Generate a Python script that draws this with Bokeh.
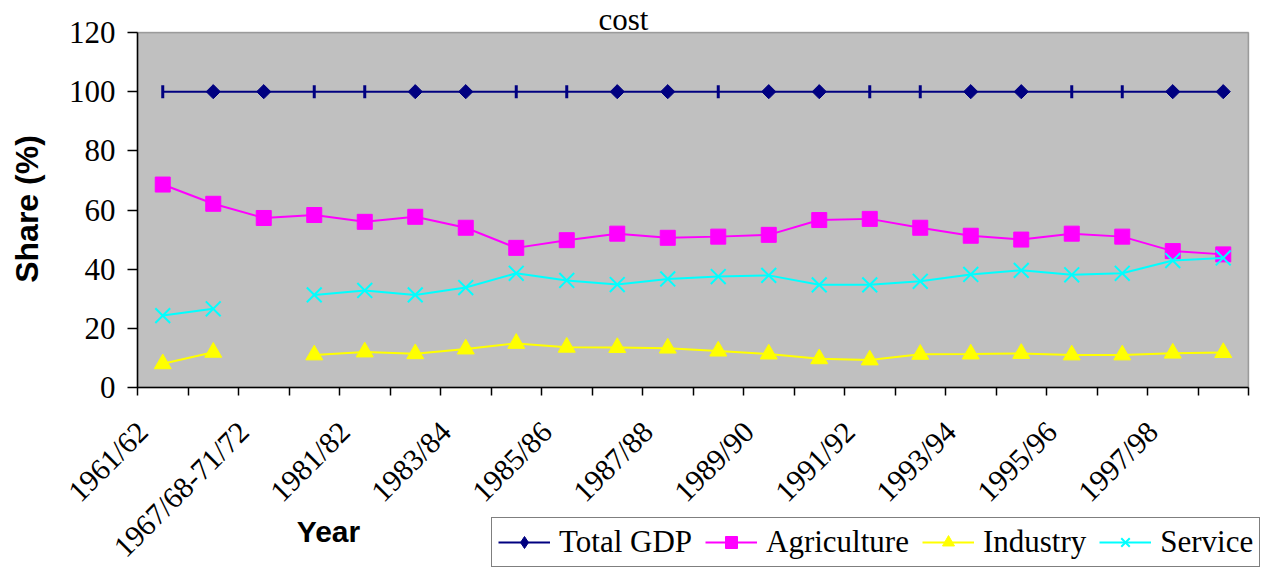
from math import pi
from bokeh.plotting import figure
from bokeh.models import Range1d, FixedTicker, Legend, LegendItem, Label, BoxAnnotation
from bokeh.embed import file_html
from bokeh.resources import INLINE

nan = float("nan")

years = ["1961/62", "1962/63-66/67", "1967/68-71/72", "1972/73-80/81", "1981/82", "1982/83",
         "1983/84", "1984/85", "1985/86", "1986/87", "1987/88", "1988/89", "1989/90", "1990/91",
         "1991/92", "1992/93", "1993/94", "1994/95", "1995/96", "1996/97", "1997/98", "1998/99"]
shown_labels = [0, 2, 4, 6, 8, 10, 12, 14, 16, 18, 20]

total_gdp = [100, 100, 100, 100, 100, 100, 100, 100, 100, 100, 100,
             100, 100, 100, 100, 100, 100, 100, 100, 100, 100, 100]
agriculture = [68.6, 62.1, 57.3, 58.3, 56.0, 57.7, 54.0, 47.2, 49.8, 52.0, 50.6,
               51.0, 51.6, 56.6, 57.0, 54.0, 51.3, 50.0, 52.0, 51.0, 46.1, 45.0]
industry = [8.0, 11.9, nan, 11.0, 12.0, 11.4, 13.0, 14.9, 13.6, 13.5, 13.3,
            12.3, 11.3, 9.7, 9.3, 11.2, 11.3, 11.5, 11.0, 11.0, 11.6, 11.8]
service = [24.3, 26.6, nan, 31.3, 32.8, 31.3, 33.8, 38.6, 36.2, 34.8, 36.7,
           37.5, 37.9, 34.7, 34.7, 35.9, 38.2, 39.6, 38.1, 38.6, 42.9, 43.8]
gdp_diamond_points = [1, 2, 5, 6, 9, 10, 12, 13, 16, 17, 20, 21]
gdp_bar_points = [0, 3, 4, 7, 8, 11, 14, 15, 18, 19]
y_ticks = [0, 20, 40, 60, 80, 100, 120]

x = list(range(len(years)))

# Layout geometry (pixels): plot area spans x 137..1248, y 32..387 on a 1278x568 canvas.
W, H = 1278, 568
PA_LEFT, PA_RIGHT, PA_TOP, PA_BOTTOM = 137, 1248, 32, 387
x_lo, x_hi = -0.5, len(years) - 0.5
y_lo, y_hi = 0, 120
px_x = (PA_RIGHT - PA_LEFT) / (x_hi - x_lo)
px_y = (PA_BOTTOM - PA_TOP) / (y_hi - y_lo)
LABEL_SHIFT = -0.4   # Excel draws slanted category labels a little left of the category centre

p = figure(width=W, height=H, output_backend="svg", toolbar_location=None,
           x_range=Range1d(x_lo - PA_LEFT / px_x, x_hi + (W - PA_RIGHT) / px_x),
           y_range=Range1d(y_lo - (H - PA_BOTTOM) / px_y, y_hi + PA_TOP / px_y),
           min_border_left=0, min_border_right=0, min_border_top=0, min_border_bottom=0,
           background_fill_color="white", border_fill_color="white",
           outline_line_color=None)
p.grid.visible = False

p.add_layout(BoxAnnotation(left=x_lo, right=x_hi, bottom=y_lo, top=y_hi,
                           fill_color="#c0c0c0", fill_alpha=1.0,
                           line_color="black", line_width=1.5, level="underlay"))

SERIF = "Liberation Serif"
SANS = "Liberation Sans"

label_ticks = [i + LABEL_SHIFT for i in shown_labels]

xa = p.xaxis[0]
xa.fixed_location = y_lo
xa.bounds = (x_lo, x_hi)
xa.ticker = FixedTicker(ticks=label_ticks, minor_ticks=[i - 0.5 for i in range(len(years) + 1)])
xa.major_label_overrides = {t: years[i] for t, i in zip(label_ticks, shown_labels)}
xa.major_tick_out = 0
xa.major_tick_in = 0
xa.minor_tick_out = 8
xa.minor_tick_in = 0
xa.minor_tick_line_color = "black"
xa.minor_tick_line_width = 1.5
xa.axis_line_color = "black"
xa.axis_line_width = 1.5
xa.major_label_orientation = pi / 4
xa.major_label_text_font = SERIF
xa.major_label_text_font_size = "30px"
xa.major_label_text_color = "black"
xa.major_label_standoff = 31

ya = p.yaxis[0]
ya.fixed_location = x_lo
ya.bounds = (y_lo, y_hi)
ya.ticker = FixedTicker(ticks=y_ticks)
ya.major_tick_out = 10
ya.major_tick_in = 0
ya.minor_tick_out = 0
ya.minor_tick_in = 0
ya.major_tick_line_color = "black"
ya.major_tick_line_width = 1.5
ya.axis_line_color = "black"
ya.axis_line_width = 1.5
ya.major_label_text_font = SERIF
ya.major_label_text_font_size = "31px"
ya.major_label_text_color = "black"
ya.major_label_standoff = 12

NAVY = "#000080"
MAG = "#ff00ff"
YEL = "#ffff00"
CYA = "#00ffff"

gdp_line = p.line(x, total_gdp, line_color=NAVY, line_width=2)
gdp_dia = p.scatter([x[i] for i in gdp_diamond_points], [total_gdp[i] for i in gdp_diamond_points],
                    marker="square", angle=pi / 4, size=10, fill_color=NAVY, line_color=NAVY)
gdp_bar = p.scatter([x[i] for i in gdp_bar_points], [total_gdp[i] for i in gdp_bar_points],
                    marker="dash", angle=pi / 2, size=13, line_color=NAVY, line_width=3)
# legend swatch for the diamond (legends never rotate markers)
gdp_key = p.scatter([x[i] for i in gdp_diamond_points], [total_gdp[i] for i in gdp_diamond_points],
                    marker="diamond", fill_color=NAVY, line_color=NAVY, visible=False)

ag_line = p.line(x, agriculture, line_color=MAG, line_width=2)
ag_pts = p.scatter(x, agriculture, marker="square", size=15, fill_color=MAG, line_color=MAG)

in_line = p.line(x, industry, line_color=YEL, line_width=2)
in_pts = p.scatter(x, industry, marker="triangle", size=17, fill_color=YEL, line_color=YEL)

se_line = p.line(x, service, line_color=CYA, line_width=2)
se_pts = p.scatter(x, service, marker="x", size=21, line_color=CYA, line_width=2)

legend = Legend(items=[
    LegendItem(label="Total GDP", renderers=[gdp_line, gdp_key]),
    LegendItem(label="Agriculture", renderers=[ag_line, ag_pts]),
    LegendItem(label="Industry", renderers=[in_line, in_pts]),
    LegendItem(label="Service", renderers=[se_line, se_pts]),
], orientation="horizontal", location=(491, 1),
    label_text_font=SERIF, label_text_font_size="31px", label_text_color="black",
    glyph_width=52, glyph_height=30, label_height=30, label_standoff=9, spacing=13,
    padding=6, margin=0,
    border_line_color="black", border_line_width=1.5, background_fill_color="white",
    background_fill_alpha=1.0)
p.add_layout(legend)

p.add_layout(Label(x=623, y=H - 19, x_units="screen", y_units="screen", text="cost",
                   text_font=SERIF, text_font_size="31px", text_color="black",
                   text_align="center", text_baseline="alphabetic"))
p.add_layout(Label(x=328, y=H - 531, x_units="screen", y_units="screen", text="Year",
                   text_font=SANS, text_font_style="bold", text_font_size="30px",
                   text_color="black", text_align="center", text_baseline="alphabetic"))
p.add_layout(Label(x=26, y=H - 208.5, x_units="screen", y_units="screen", text="Share (%)",
                   angle=pi / 2, text_font=SANS, text_font_style="bold", text_font_size="32px",
                   text_color="black", text_align="center", text_baseline="alphabetic"))

open("out.html", "w").write(file_html(p, INLINE))
